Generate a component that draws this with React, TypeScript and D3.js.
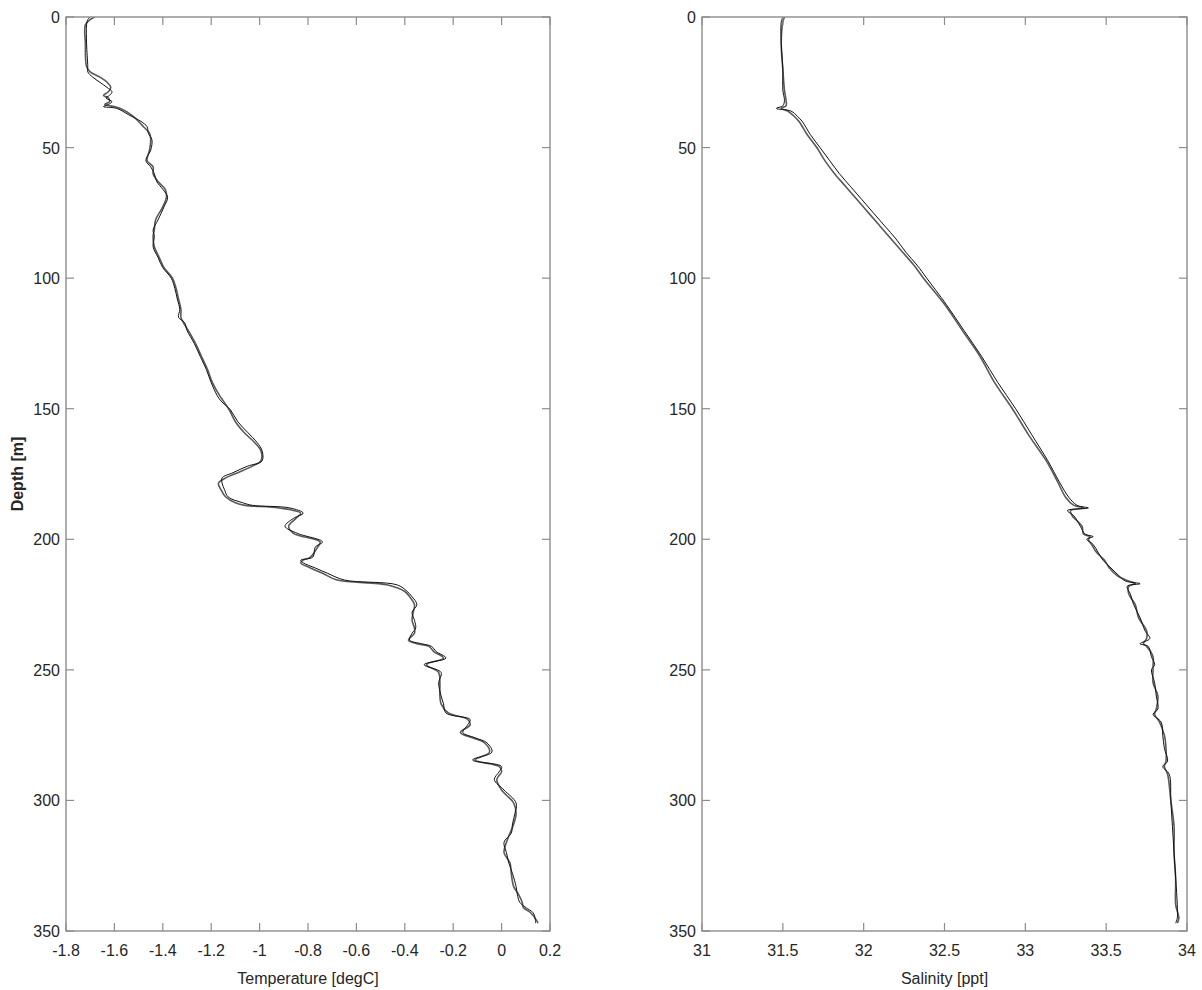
import React from "react";
import * as d3 from "d3";

// ---- data (depth [m], value) ----
const depthTicks = [0, 50, 100, 150, 200, 250, 300, 350];
const tempTicks = [-1.8, -1.6, -1.4, -1.2, -1, -0.8, -0.6, -0.4, -0.2, 0, 0.2];
const salTicks = [31, 31.5, 32, 32.5, 33, 33.5, 34];

const tempCastA: [number, number][] = [
  [0, -1.70], [1, -1.71], [3, -1.715], [10, -1.715], [19, -1.71], [21, -1.71], [23, -1.69], [25, -1.66],
  [27, -1.63], [28.6, -1.61], [30, -1.62], [31, -1.635], [32.4, -1.61], [33.5, -1.625], [34.3, -1.645],
  [35, -1.59], [37.5, -1.54], [40, -1.49], [42, -1.465], [44.5, -1.46], [47, -1.445], [51, -1.45],
  [55, -1.47], [57.4, -1.45], [60, -1.435], [63, -1.425], [66, -1.40], [69, -1.38], [72.7, -1.395],
  [77.7, -1.42], [81.6, -1.44], [84, -1.435], [88, -1.44], [92, -1.42], [96, -1.40], [100, -1.365],
  [104, -1.35], [108, -1.34], [112, -1.33], [115, -1.335], [117, -1.31], [120, -1.30], [125, -1.27],
  [130, -1.245], [135, -1.22], [140, -1.20], [145, -1.175], [147, -1.16], [150.5, -1.12], [155, -1.09],
  [159, -1.05], [163, -1.01], [166, -0.99], [170, -0.99], [172, -1.05], [174.5, -1.11], [176.5, -1.155],
  [178.5, -1.155], [181, -1.145], [183.8, -1.13], [186, -1.07], [187, -1.03], [188, -0.875], [190, -0.82],
  [192, -0.86], [195, -0.895], [197.7, -0.845], [201, -0.74], [203, -0.77], [206.8, -0.78], [208, -0.83],
  [209, -0.82], [211, -0.77], [213, -0.72], [215.6, -0.65], [217.5, -0.43], [220, -0.39], [222, -0.37],
  [225, -0.35], [228, -0.37], [231, -0.36], [234, -0.355], [236, -0.37], [238.6, -0.38], [240, -0.33],
  [241, -0.29], [243, -0.27], [245.5, -0.23], [248, -0.32], [251, -0.25], [255, -0.26], [260, -0.25],
  [263, -0.24], [266.5, -0.23], [269, -0.13], [271, -0.14], [274, -0.16], [276, -0.11], [278, -0.06],
  [281.5, -0.04], [284.5, -0.12], [287, 0.0], [289, -0.01], [292, -0.03], [296, 0.01], [301, 0.06],
  [305, 0.055], [309, 0.045], [312.5, 0.04], [316, 0.01], [320, 0.02], [324, 0.03], [328, 0.045],
  [333, 0.06], [336, 0.065], [339, 0.075], [341, 0.10], [343, 0.13], [346, 0.14], [347, 0.14],
];

const tempCastB: [number, number][] = [
  [0, -1.68], [1, -1.70], [3, -1.72], [10, -1.72], [19, -1.715], [21, -1.70], [23, -1.66], [25, -1.63],
  [27, -1.615], [28.6, -1.625], [30, -1.645], [31, -1.625], [32.4, -1.62], [33.5, -1.64], [34.3, -1.60],
  [35, -1.575], [37.5, -1.53], [40, -1.50], [42, -1.48], [44.5, -1.455], [47, -1.45], [51, -1.455],
  [55, -1.465], [57.4, -1.44], [60, -1.44], [63, -1.42], [66, -1.39], [69, -1.385], [72.7, -1.40],
  [77.7, -1.43], [81.6, -1.435], [84, -1.44], [88, -1.435], [92, -1.415], [96, -1.395], [100, -1.36],
  [104, -1.345], [108, -1.335], [112, -1.325], [115, -1.325], [117, -1.315], [120, -1.295], [125, -1.265],
  [130, -1.24], [135, -1.215], [140, -1.195], [145, -1.165], [147, -1.15], [150.5, -1.125], [155, -1.10],
  [159, -1.065], [163, -1.02], [166, -0.995], [170, -0.995], [172, -1.03], [174.5, -1.09], [176.5, -1.14],
  [178.5, -1.17], [181, -1.16], [183.8, -1.14], [186, -1.10], [187, -1.06], [188, -0.92], [190, -0.83],
  [192, -0.85], [195, -0.88], [197.7, -0.86], [201, -0.75], [203, -0.76], [206.8, -0.79], [208, -0.82],
  [209, -0.83], [211, -0.79], [213, -0.74], [215.6, -0.68], [217.5, -0.47], [220, -0.40], [222, -0.38],
  [225, -0.36], [228, -0.365], [231, -0.37], [234, -0.36], [236, -0.36], [238.6, -0.385], [240, -0.35],
  [241, -0.30], [243, -0.28], [245.5, -0.24], [248, -0.31], [251, -0.26], [255, -0.255], [260, -0.255],
  [263, -0.25], [266.5, -0.22], [269, -0.14], [271, -0.13], [274, -0.17], [276, -0.12], [278, -0.07],
  [281.5, -0.05], [284.5, -0.11], [287, -0.01], [289, 0.0], [292, -0.02], [296, 0.0], [301, 0.05],
  [305, 0.06], [309, 0.05], [312.5, 0.035], [316, 0.02], [320, 0.01], [324, 0.035], [328, 0.04],
  [333, 0.05], [336, 0.07], [339, 0.085], [341, 0.09], [343, 0.12], [346, 0.145], [347, 0.15],
];

const salCastA: [number, number][] = [
  [0, 31.50], [2, 31.49], [10, 31.49], [20, 31.50], [28, 31.50], [32, 31.51], [34, 31.50], [35, 31.46],
  [36, 31.55], [38, 31.59], [40, 31.62], [45, 31.67], [50, 31.73], [55, 31.79], [60, 31.85], [65, 31.92],
  [70, 31.99], [75, 32.06], [80, 32.13], [85, 32.20], [90, 32.26], [95, 32.33], [100, 32.39], [110, 32.51],
  [120, 32.62], [130, 32.73], [140, 32.83], [150, 32.94], [160, 33.04], [170, 33.14], [178, 33.21],
  [184, 33.27], [187, 33.32], [188, 33.39], [189, 33.26], [191, 33.30], [195, 33.34], [198, 33.37],
  [199, 33.42], [200, 33.38], [202, 33.42], [205, 33.45], [208, 33.48], [211, 33.53], [214, 33.58],
  [216, 33.62], [217, 33.71], [218, 33.63], [221, 33.65], [225, 33.67], [230, 33.71], [235, 33.74],
  [238, 33.77], [240, 33.71], [241, 33.76], [245, 33.78], [248, 33.80], [250, 33.78], [255, 33.80],
  [260, 33.81], [265, 33.82], [267, 33.79], [270, 33.84], [275, 33.85], [280, 33.86], [285, 33.88],
  [287, 33.85], [290, 33.89], [300, 33.90], [310, 33.91], [320, 33.92], [330, 33.93], [340, 33.94],
  [345, 33.94], [347, 33.93],
];

const salCastB: [number, number][] = [
  [0, 31.51], [2, 31.50], [10, 31.49], [20, 31.50], [28, 31.51], [32, 31.52], [34, 31.52], [35, 31.49],
  [36, 31.53], [38, 31.57], [40, 31.60], [45, 31.65], [50, 31.71], [55, 31.76], [60, 31.82], [65, 31.89],
  [70, 31.96], [75, 32.03], [80, 32.10], [85, 32.17], [90, 32.24], [95, 32.31], [100, 32.37], [110, 32.50],
  [120, 32.61], [130, 32.72], [140, 32.81], [150, 32.92], [160, 33.02], [170, 33.13], [178, 33.20],
  [184, 33.25], [187, 33.30], [188, 33.36], [189, 33.28], [191, 33.29], [195, 33.35], [198, 33.36],
  [199, 33.40], [200, 33.39], [202, 33.41], [205, 33.44], [208, 33.49], [211, 33.52], [214, 33.57],
  [216, 33.64], [217, 33.68], [218, 33.64], [221, 33.64], [225, 33.68], [230, 33.70], [235, 33.75],
  [238, 33.75], [240, 33.73], [241, 33.75], [245, 33.79], [248, 33.79], [250, 33.79], [255, 33.79],
  [260, 33.82], [265, 33.81], [267, 33.80], [270, 33.83], [275, 33.86], [280, 33.87], [285, 33.87],
  [287, 33.86], [290, 33.88], [300, 33.90], [310, 33.92], [320, 33.92], [330, 33.93], [340, 33.93],
  [345, 33.95], [347, 33.94],
];

// ---- layout ----
const W = 1202;
const H = 990;
const TOP = 17;
const BOTTOM = 931;
const FONT = "'Liberation Sans', Arial, sans-serif";
const AXIS_COLOR = "#8c8c8c";
const TEXT_COLOR = "#262626";
const TICK = 8;

type PanelProps = {
  x0: number;
  x1: number;
  domain: [number, number];
  ticks: number[];
  casts: [number, number][][];
  xLabel: string;
  yLabel?: string;
};

function Panel({ x0, x1, domain, ticks, casts, xLabel, yLabel }: PanelProps) {
  const x = d3.scaleLinear().domain(domain).range([x0, x1]);
  const y = d3.scaleLinear().domain([0, 350]).range([TOP, BOTTOM]);
  const line = d3
    .line<[number, number]>()
    .x((d) => x(d[1]))
    .y((d) => y(d[0]))
    .curve(d3.curveCatmullRom.alpha(0.5));
  const fmt = (v: number) => String(v);
  return (
    <g>
      <defs>
        <clipPath id={`clip-${x0}`}>
          <rect x={x0} y={TOP} width={x1 - x0} height={BOTTOM - TOP} />
        </clipPath>
      </defs>
      <g clipPath={`url(#clip-${x0})`}>
        <path d={line(casts[1]) || ""} fill="none" stroke="#5a5a5a" strokeWidth={1.6} />
        <path d={line(casts[0]) || ""} fill="none" stroke="#111" strokeWidth={1} />
      </g>
      <rect x={x0} y={TOP} width={x1 - x0} height={BOTTOM - TOP} fill="none" stroke={AXIS_COLOR} strokeWidth={1.4} />
      {ticks.map((t) => (
        <g key={`xt${t}`}>
          <line x1={x(t)} x2={x(t)} y1={BOTTOM} y2={BOTTOM - TICK} stroke={AXIS_COLOR} strokeWidth={1.2} />
          <line x1={x(t)} x2={x(t)} y1={TOP} y2={TOP + TICK} stroke={AXIS_COLOR} strokeWidth={1.2} />
          <text x={x(t)} y={BOTTOM + 25} textAnchor="middle" fontFamily={FONT} fontSize={16} fill={TEXT_COLOR}>
            {fmt(t)}
          </text>
        </g>
      ))}
      {depthTicks.map((t) => (
        <g key={`yt${t}`}>
          <line x1={x0} x2={x0 + TICK} y1={y(t)} y2={y(t)} stroke={AXIS_COLOR} strokeWidth={1.2} />
          <line x1={x1} x2={x1 - TICK} y1={y(t)} y2={y(t)} stroke={AXIS_COLOR} strokeWidth={1.2} />
          <text x={x0 - 6} y={y(t) + 6} textAnchor="end" fontFamily={FONT} fontSize={16} fill={TEXT_COLOR}>
            {t}
          </text>
        </g>
      ))}
      <text x={(x0 + x1) / 2} y={BOTTOM + 53} textAnchor="middle" fontFamily={FONT} fontSize={16} fill={TEXT_COLOR}>
        {xLabel}
      </text>
      {yLabel && (
        <text
          transform={`translate(${x0 - 43},${(TOP + BOTTOM) / 2}) rotate(-90)`}
          textAnchor="middle"
          fontFamily={FONT}
          fontSize={16}
          fontWeight="bold"
          fill={TEXT_COLOR}
        >
          {yLabel}
        </text>
      )}
    </g>
  );
}

export default function App() {
  return (
    <svg
      width={W}
      height={H}
      viewBox={`0 0 ${W} ${H}`}
      style={{ position: "absolute", left: 0, top: 0, background: "#fff" }}
    >
      <rect x={0} y={0} width={W} height={H} fill="#fff" />
      <Panel
        x0={66}
        x1={550}
        domain={[-1.8, 0.2]}
        ticks={tempTicks}
        casts={[tempCastA, tempCastB]}
        xLabel="Temperature [degC]"
        yLabel="Depth [m]"
      />
      <Panel
        x0={702}
        x1={1187}
        domain={[31, 34]}
        ticks={salTicks}
        casts={[salCastA, salCastB]}
        xLabel="Salinity [ppt]"
      />
    </svg>
  );
}
